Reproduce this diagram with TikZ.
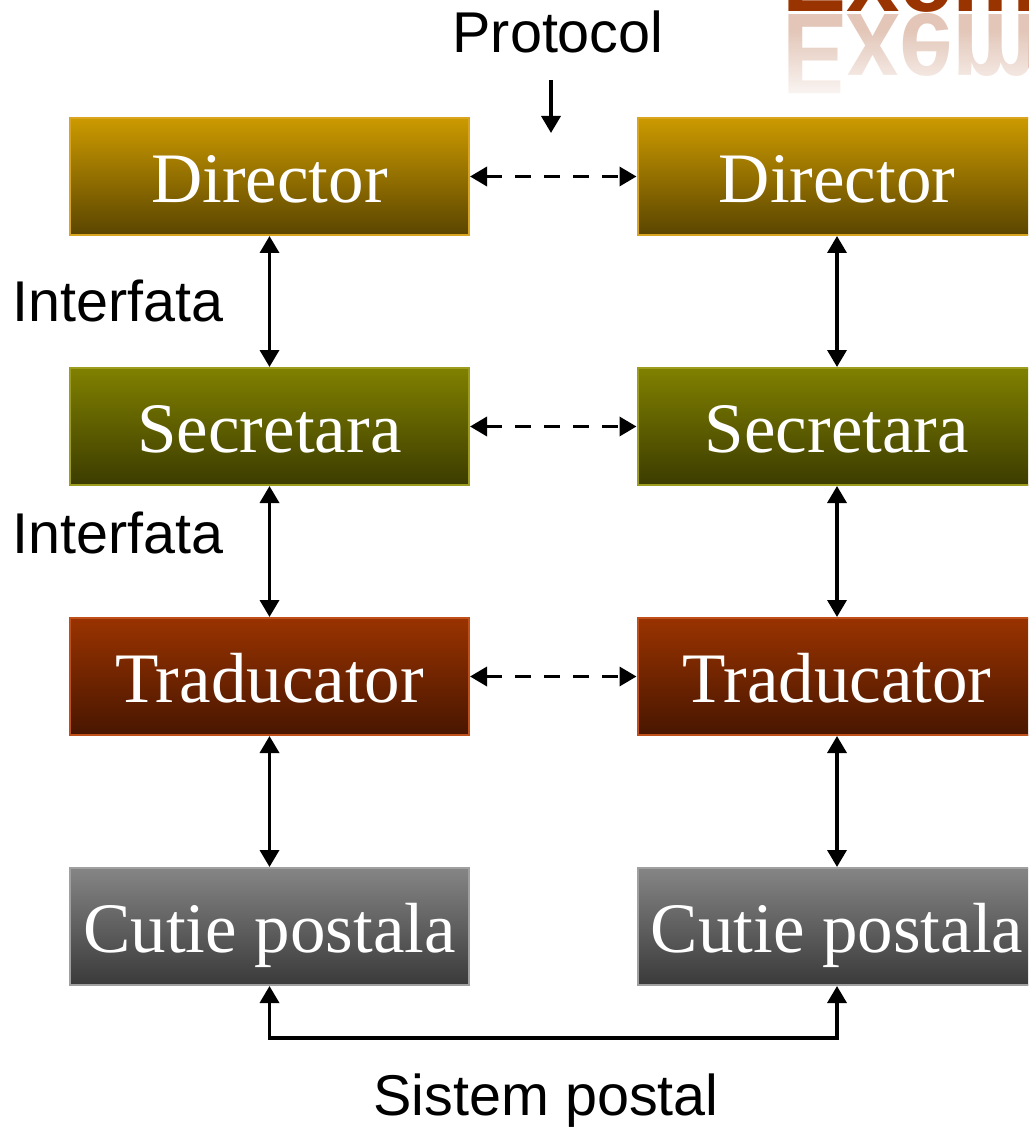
\documentclass[tikz,border=0pt]{standalone}
\usepackage{fontspec}
\setmainfont{Liberation Serif}
\newfontfamily\labelfont{Liberation Sans}
\usepackage{xcolor}
\usetikzlibrary{positioning, arrows.meta, fadings}

\definecolor{dirtop}{HTML}{CC9A00}
\definecolor{dirbot}{HTML}{5A4500}
\definecolor{dirline}{HTML}{D9A520}
\definecolor{sectop}{HTML}{808000}
\definecolor{secbot}{HTML}{3C3C00}
\definecolor{secline}{HTML}{9C9C1E}
\definecolor{tratop}{HTML}{993300}
\definecolor{trabot}{HTML}{481600}
\definecolor{traline}{HTML}{C0501A}
\definecolor{cuttop}{HTML}{858585}
\definecolor{cutbot}{HTML}{3A3A3A}
\definecolor{cutline}{HTML}{A0A0A0}
\definecolor{titlered}{HTML}{993300}

\begin{document}
\begin{tikzpicture}[x=1pt, y=-1pt, >={Triangle[length=17pt, width=19pt]},
    layer/.style={rectangle, minimum width=399pt, minimum height=117pt, inner sep=0pt,
        line width=2pt, text=white, font=\fontsize{71}{80}\selectfont,
        text height=52pt, text depth=0pt},
    director/.style={layer, draw=dirline, top color=dirtop, bottom color=dirbot},
    secretara/.style={layer, draw=secline, top color=sectop, bottom color=secbot},
    traducator/.style={layer, draw=traline, top color=tratop, bottom color=trabot},
    cutie/.style={layer, draw=cutline, top color=cuttop, bottom color=cutbot},
    caption/.style={inner sep=0pt, font=\labelfont\fontsize{57.5}{60}\selectfont},
    link/.style={line width=3.5pt, black},
    talk/.style={link, <->, dash pattern=on 16pt off 13pt}
]
    \clip (0,0) rectangle (1028,1131);

    % titlu taiat si reflexia lui
    \node[anchor=base west, inner sep=0pt, text=titlered, font=\labelfont\bfseries\fontsize{96}{100}\selectfont] (title) at (782,12) {Exem};
    \node[anchor=base west, inner sep=0pt, yscale=-1.2, text=titlered, opacity=0.28, font=\labelfont\bfseries\fontsize{96}{100}\selectfont] (titlerefl) at (782,15) {Exem};
    \fill[white, path fading=north] (770,30) rectangle (1028,108);

    % stanga
    \node[director] (dirL) at (269.5,176.5) {Director};
    \node[secretara] (secL) at (269.5,426.5) {Secretara};
    \node[traducator] (traL) at (269.5,676.5) {Traducator};
    \node[cutie] (cutL) at (269.5,926.5) {Cutie postala};

    % dreapta
    \node[director] (dirR) at (837,176.5) {Director};
    \node[secretara] (secR) at (837,426.5) {Secretara};
    \node[traducator] (traR) at (837,676.5) {Traducator};
    \node[cutie] (cutR) at (837,926.5) {Cutie postala};

    % etichete
    \node[caption, anchor=base] (proto) at (558,53) {Protocol};
    \node[caption, anchor=base west] (intf1) at (12,321) {Interfata};
    \node[caption, anchor=base west] (intf2) at (12,553) {Interfata};
    \node[caption, anchor=base] (postal) at (546,1115) {Sistem postal};

    \coordinate (ptop) at (551,80);
    \coordinate (ptip) at (551,133);
    \draw[link, ->] (ptop) -- (ptip);

    \draw[talk] (dirL) -- (dirR);
    \draw[talk] (secL) -- (secR);
    \draw[talk] (traL) -- (traR);

    \draw[link, <->] (dirL) -- (secL);
    \draw[link, <->] (secL) -- (traL);
    \draw[link, <->] (traL) -- (cutL);
    \draw[link, <->] (dirR) -- (secR);
    \draw[link, <->] (secR) -- (traR);
    \draw[link, <->] (traR) -- (cutR);

    \draw[link, <->] (cutL.south) -- ++(0,52) -| (cutR.south);
\end{tikzpicture}
\end{document}
